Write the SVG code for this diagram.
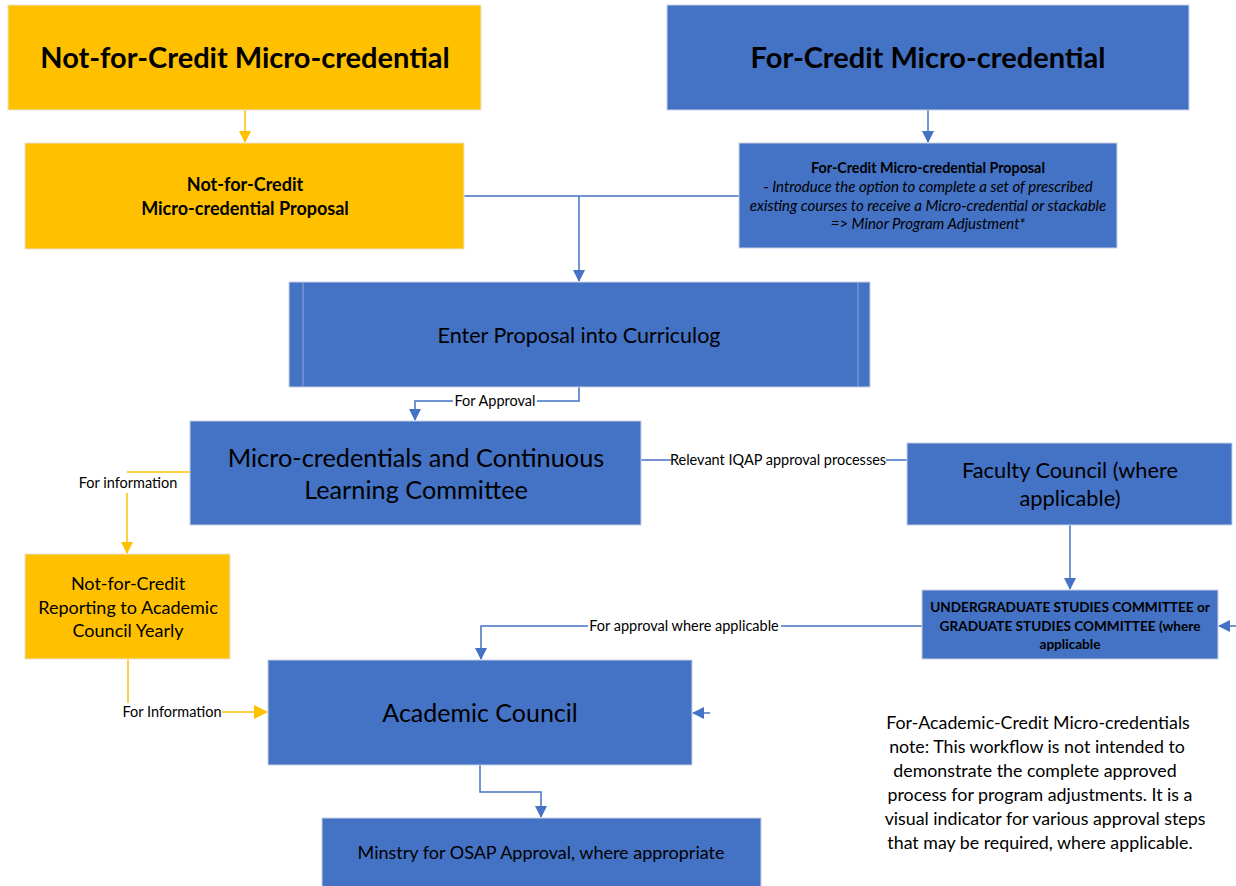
<svg xmlns="http://www.w3.org/2000/svg" width="1236" height="886" viewBox="0 0 1236 886">
<style>
.b{fill:#4472C4;stroke:#c8d2e6;stroke-width:1}
.y{fill:#FFC000;stroke:#e6e2d6;stroke-width:1}
text{font-family:Lato,"Open Sans",sans-serif;fill:#000;text-anchor:middle}
.h{font-weight:bold;font-size:29px}
.lb{fill:none;stroke:#4472C4;stroke-width:1.5}
.ly{fill:none;stroke:#FFC000;stroke-width:1.5}
.lab{font-size:14.5px}
</style>
<defs>
<marker id="ab" markerWidth="12" markerHeight="12" refX="11" refY="6" orient="auto" markerUnits="userSpaceOnUse"><path d="M0,0 L12,6 L0,12 z" fill="#4472C4"/></marker>
<marker id="ay" markerWidth="12" markerHeight="12" refX="11" refY="6" orient="auto" markerUnits="userSpaceOnUse"><path d="M0,0 L12,6 L0,12 z" fill="#FFC000"/></marker>
<marker id="ay2" markerWidth="14" markerHeight="14" refX="13" refY="7" orient="auto" markerUnits="userSpaceOnUse"><path d="M0,0 L14,7 L0,14 z" fill="#FFC000"/></marker>
</defs>
<rect width="1236" height="886" fill="#fff"/>
<g id="connectors">
<path class="ly" d="M245,110 V142" marker-end="url(#ay)"/>
<path class="lb" d="M928,110 V142" marker-end="url(#ab)"/>
<path class="lb" d="M464,196 H739"/>
<path class="lb" d="M579,196 V281" marker-end="url(#ab)"/>
<path class="lb" d="M579,387 V401 H415 V420" marker-end="url(#ab)"/>
<rect x="453" y="393" width="84" height="16" fill="#fff"/>
<text class="lab" x="495" y="406">For Approval</text>
<path class="ly" d="M190,472 H127"/>
<path class="ly" d="M127,493 V553" marker-end="url(#ay)"/>
<text class="lab" x="128" y="488">For information</text>
<path class="ly" d="M128,659 V703"/>
<path class="ly" d="M222,712 H267" marker-end="url(#ay2)"/>
<text class="lab" x="172" y="717">For Information</text>
<path class="lb" d="M641,460 H907"/>
<rect x="671" y="452" width="215" height="16" fill="#fff"/>
<text class="lab" x="778" y="465">Relevant IQAP approval processes</text>
<path class="lb" d="M1070,525 V589" marker-end="url(#ab)"/>
<path class="lb" d="M1236,626 H1219" marker-end="url(#ab)"/>
<path class="lb" d="M922,626 H481 V659" marker-end="url(#ab)"/>
<rect x="588" y="618" width="193" height="16" fill="#fff"/>
<text class="lab" x="684" y="631">For approval where applicable</text>
<path class="lb" d="M710,713 H693" marker-end="url(#ab)"/>
<path class="lb" d="M480,765 V792 H541 V817" marker-end="url(#ab)"/>
</g>
<g id="n1"><rect class="y" x="8" y="5" width="473" height="105"/><text class="h" x="245" y="68">Not-for-Credit Micro-credential</text></g>
<g id="n2"><rect class="b" x="667" y="5" width="522" height="105"/><text class="h" x="928" y="68">For-Credit Micro-credential</text></g>
<g id="n3"><rect class="y" x="25" y="143" width="439" height="106"/><text font-weight="bold" font-size="18" x="245" y="191">Not-for-Credit</text><text font-weight="bold" font-size="18" x="245" y="215">Micro-credential Proposal</text></g>
<g id="n4"><rect class="b" x="739" y="143" width="378" height="105"/>
<text font-weight="bold" font-size="14.3" x="928" y="173">For-Credit Micro-credential Proposal</text>
<text font-style="italic" font-size="15" x="928" y="192">- Introduce the option to complete a set of prescribed</text>
<text font-style="italic" font-size="15" x="928" y="210.5">existing courses to receive a Micro-credential or stackable</text>
<text font-style="italic" font-size="15" x="928" y="229">=&gt; Minor Program Adjustment*</text></g>
<g id="n5"><rect class="b" x="289" y="282" width="581" height="105"/><path d="M303,282 V387 M858,282 V387" stroke="#8fa6d6" stroke-width="1"/><text font-size="21.5" x="579" y="343">Enter Proposal into Curriculog</text></g>
<g id="n6"><rect class="b" x="190" y="421" width="451" height="104"/><text font-size="25.3" x="416" y="467">Micro-credentials and Continuous</text><text font-size="25.3" x="416" y="499">Learning Committee</text></g>
<g id="n7"><rect class="y" x="25" y="554" width="205" height="105"/><text font-size="18" x="128" y="590">Not-for-Credit</text><text font-size="18" x="128" y="613.5">Reporting to Academic</text><text font-size="18" x="128" y="637">Council Yearly</text></g>
<g id="n8"><rect class="b" x="268" y="660" width="424" height="105"/><text font-size="25" x="480" y="722">Academic Council</text></g>
<g id="n9"><rect class="b" x="907" y="443" width="325" height="82"/><text font-size="21.8" x="1070" y="478">Faculty Council (where</text><text font-size="21.8" x="1070" y="506">applicable)</text></g>
<g id="n10"><rect class="b" x="922" y="590" width="296" height="69"/><text font-weight="bold" font-size="13.6" x="1070" y="612">UNDERGRADUATE STUDIES COMMITTEE or</text><text font-weight="bold" font-size="13.6" x="1070" y="630.5">GRADUATE STUDIES COMMITTEE (where</text><text font-weight="bold" font-size="13.6" x="1070" y="649">applicable</text></g>
<g id="n11"><rect class="b" x="322" y="818" width="439" height="70"/><text font-size="18" x="541" y="859">Minstry for OSAP Approval, where appropriate</text></g>
<g id="note" font-size="17.8">
<text x="1038" y="729">For-Academic-Credit Micro-credentials</text>
<text x="1037" y="753">note:  This workflow is not intended to</text>
<text x="1035" y="777">demonstrate the complete approved</text>
<text x="1040" y="801">process for program adjustments.  It is a</text>
<text x="1045" y="825">visual  indicator for various approval steps</text>
<text x="1040" y="849">that may be required, where applicable.</text>
</g>
</svg>
